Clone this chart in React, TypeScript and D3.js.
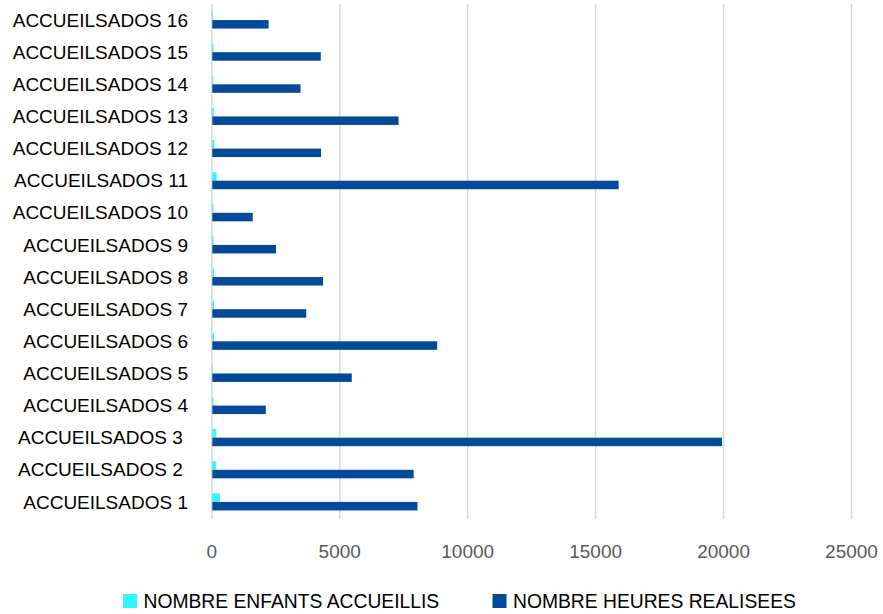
import React from 'react';
import * as d3 from 'd3';

const categories = [
  'ACCUEILSADOS 1', 'ACCUEILSADOS 2 ', 'ACCUEILSADOS 3 ', 'ACCUEILSADOS 4',
  'ACCUEILSADOS 5', 'ACCUEILSADOS 6', 'ACCUEILSADOS 7', 'ACCUEILSADOS 8',
  'ACCUEILSADOS 9', 'ACCUEILSADOS 10', 'ACCUEILSADOS 11', 'ACCUEILSADOS 12',
  'ACCUEILSADOS 13', 'ACCUEILSADOS 14', 'ACCUEILSADOS 15', 'ACCUEILSADOS 16',
];
const enfants = [300, 140, 155, 50, 30, 65, 65, 65, 50, 50, 170, 78, 60, 35, 50, 30];
const heures = [8020, 7870, 19920, 2090, 5450, 8790, 3670, 4330, 2490, 1580, 15880, 4250, 7280, 3450, 4240, 2200];
const xTicks = [0, 5000, 10000, 15000, 20000, 25000];
const seriesNames = ['NOMBRE ENFANTS ACCUEILLIS', 'NOMBRE HEURES REALISEES'];
const seriesColors = ['#33F5FF', '#034B98'];

const W = 883;
const H = 614;
const FONT = '"Liberation Sans", Arial, sans-serif';

export default function App() {
  const x = d3.scaleLinear().domain([0, 25000]).range([211.8, 851.5]);
  const y = d3
    .scaleBand<string>()
    .domain([...categories].reverse())
    .range([4, 518])
    .paddingInner(0.47)
    .paddingOuter(0.235);
  const sub = d3.scaleBand<number>().domain([0, 1]).range([0, y.bandwidth()]);
  const series = [enfants, heures];

  return (
    <svg width={W} height={H} style={{ position: 'absolute', left: 0, top: 0 }}>
      <rect x={0} y={0} width={W} height={H} fill="#fff" />
      {xTicks.map((t) => (
        <line key={'g' + t} x1={x(t)} x2={x(t)} y1={4} y2={519} stroke="#D9D9D9" strokeWidth={1.5} />
      ))}
      {categories.map((c, i) => (
        <g key={c}>
          {series.map((s, k) => (
            <rect
              key={k}
              x={x(0) + 0.5}
              y={(y(c) as number) + (sub(k) as number)}
              width={Math.max(0, x(s[i]) - x(0))}
              height={sub.bandwidth()}
              fill={seriesColors[k]}
            />
          ))}
          <text
            x={188}
            y={(y(c) as number) + y.bandwidth() / 2 + 6.6}
            textAnchor="end"
            fontFamily={FONT}
            fontSize={19}
            fill="#000"
            style={{ whiteSpace: 'pre' }}
          >
            {c}
          </text>
        </g>
      ))}
      {xTicks.map((t) => (
        <text key={'t' + t} x={x(t)} y={557.5} textAnchor="middle" fontFamily={FONT} fontSize={19} fill="#595959">
          {t}
        </text>
      ))}
      {seriesNames.map((n, k) => {
        const lx = k === 0 ? 123 : 492.5;
        return (
          <g key={n}>
            <rect x={lx} y={594} width={14} height={14} fill={seriesColors[k]} />
            <text x={lx + 20.5} y={608} fontFamily={FONT} fontSize={19.3} fill="#000">
              {n}
            </text>
          </g>
        );
      })}
    </svg>
  );
}
